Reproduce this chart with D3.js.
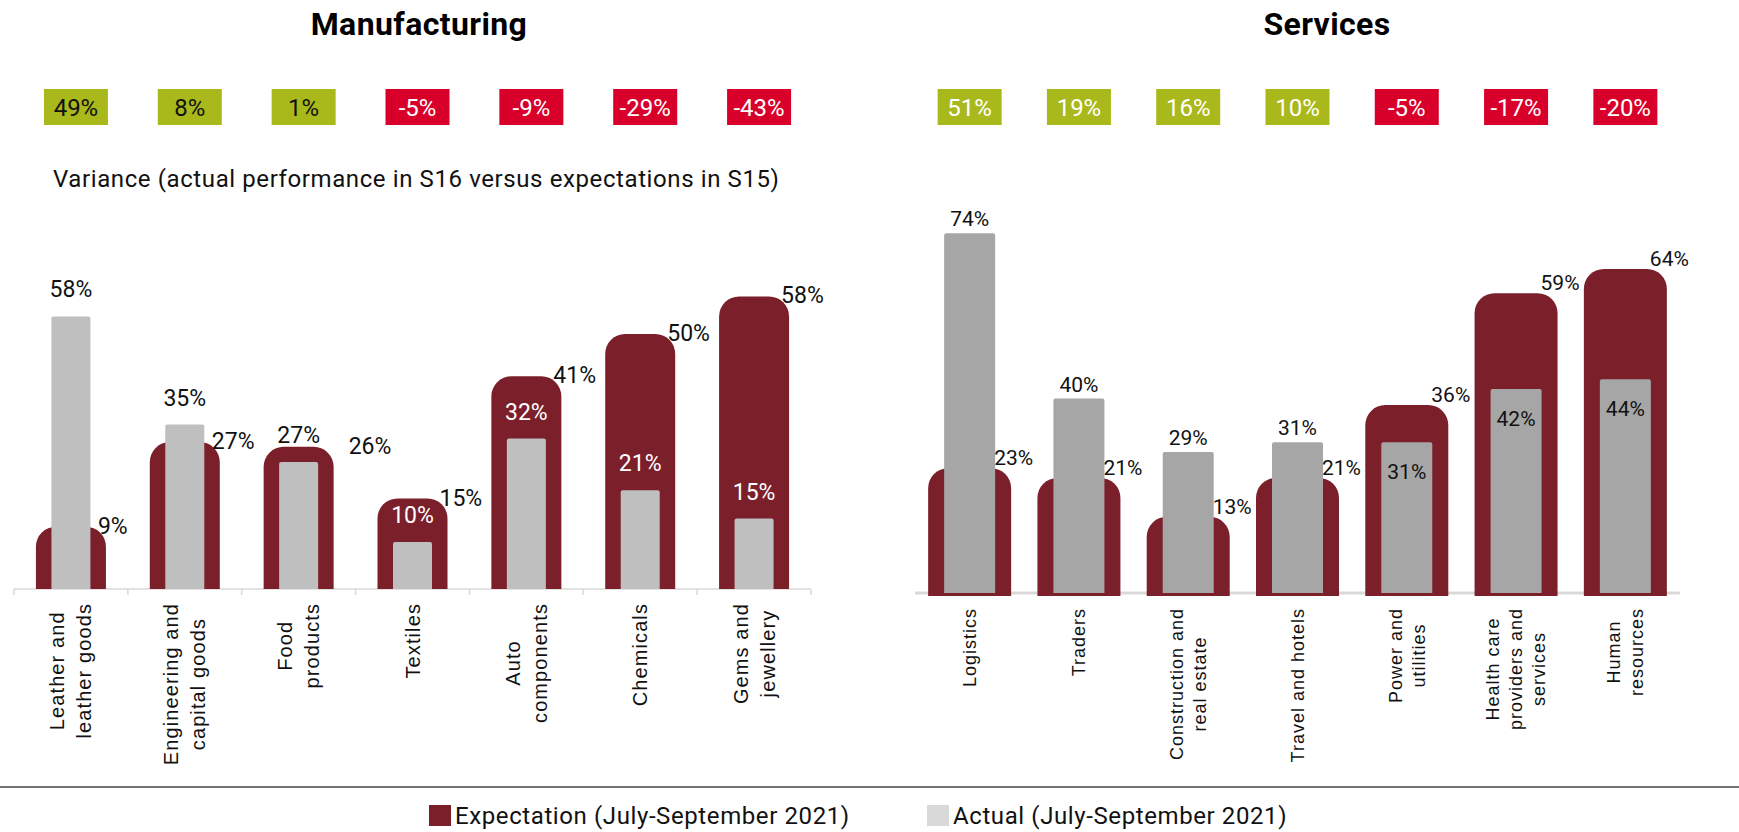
<!DOCTYPE html>
<html>
<head>
<meta charset="utf-8">
<script src="https://cdn.jsdelivr.net/npm/d3@7"></script>
<style>
  body { margin: 0; background: #fff; }
  svg text { font-family: Roboto, "Liberation Sans", sans-serif; }
</style>
</head>
<body>
<div id="chart"></div>
<script>
var width = 1739, height = 832;

// Manufacturing
var mfgCategories = ["Leather and\nleather goods", "Engineering and\ncapital goods", "Food\nproducts", "Textiles", "Auto\ncomponents", "Chemicals", "Gems and\njewellery"];
var mfgExpectation = [9, 27, 26, 15, 41, 50, 58];
var mfgActual = [58, 35, 27, 10, 32, 21, 15];
var mfgVariance = [49, 8, 1, -5, -9, -29, -43];

// Services
var svcCategories = ["Logistics", "Traders", "Construction and\nreal estate", "Travel and hotels", "Power and\nutilities", "Health care\nproviders and\nservices", "Human\nresources"];
var svcExpectation = [23, 21, 13, 21, 36, 59, 64];
var svcActual = [74, 40, 29, 31, 31, 42, 44];
var svcVariance = [51, 19, 16, 10, -5, -17, -20];

var legendLabels = ["Expectation (July-September 2021)", "Actual (July-September 2021)"];

var expColor = "#7b1f2b";
var greenBox = "#a9b81b", redBox = "#d8002b";

var svg = d3.select("#chart")
  .append("svg")
    .attr("width", width)
    .attr("height", height);

// bar with rounded top corners
function roundTop(x, y, w, h, r) {
  r = Math.min(r, w / 2, h);
  return "M" + x + "," + (y + h) +
    "V" + (y + r) +
    "A" + r + "," + r + " 0 0 1 " + (x + r) + "," + y +
    "H" + (x + w - r) +
    "A" + r + "," + r + " 0 0 1 " + (x + w) + "," + (y + r) +
    "V" + (y + h) + "Z";
}

function drawPanel(o) {
  var rows = o.cats.map(function(c, i) {
    return {cat: c, exp: o.exp[i], act: o.act[i], vari: o.vari[i]};
  });

  var x = d3.scaleBand().domain(o.cats).range([o.x0, o.x1]);
  var y = d3.scaleLinear().domain([0, o.yMax]).range([o.base, o.base - o.yMax * o.pxPer]);
  var g = svg.append("g");
  var cx = function(d) { return x(d.cat) + x.bandwidth() / 2; };
  var expTop = function(d) { return y(d.exp) - o.cap; };
  var actLabY = function(d) {
    if (d.act >= d.exp) return y(d.act) - o.aboveGap;
    return o.insideGray ? y(d.act) + 37 : y(d.act) - o.aboveGap;
  };
  var expLabY = function(d) { return expTop(d) + o.expLabY; };

  // title
  g.append("text")
    .attr("x", o.titleX).attr("y", 35)
    .attr("text-anchor", "middle")
    .style("font-size", "32px").style("font-weight", "bold")
    .style("letter-spacing", "0.4px")
    .text(o.title);

  // variance boxes
  var box = g.selectAll(".vbox").data(rows).enter().append("g")
    .attr("transform", function(d) { return "translate(" + (cx(d) + o.boxShift) + ",89)"; });
  box.append("rect")
    .attr("x", -32).attr("width", 64).attr("height", 36)
    .attr("fill", function(d) { return d.vari >= 0 ? greenBox : redBox; });
  box.append("text")
    .attr("y", 18).attr("dy", "0.36em")
    .attr("text-anchor", "middle")
    .style("font-size", "24px")
    .attr("fill", function(d) { return d.vari >= 0 ? o.posText : "#fff"; })
    .text(function(d) { return d.vari + "%"; });

  // axis
  var axis = g.append("g")
    .attr("transform", "translate(0," + o.base + ")")
    .call(d3.axisBottom(x).tickSize(0).tickFormat(""));
  axis.select(".domain").attr("stroke", "#d9d9d9").attr("stroke-width", o.axisW)
    .attr("d", "M" + o.x0 + ",0H" + o.x1);
  if (o.ticks) {
    axis.selectAll(".btick").data(o.cats.concat(["end"])).enter().append("line")
      .attr("x1", function(d) { return d === "end" ? o.x1 : x(d); })
      .attr("x2", function(d) { return d === "end" ? o.x1 : x(d); })
      .attr("y1", 0).attr("y2", 6)
      .attr("stroke", "#d9d9d9").attr("stroke-width", 1.5);
  }

  // expectation bars
  g.selectAll(".exp").data(rows).enter().append("path")
    .attr("fill", expColor)
    .attr("d", function(d) {
      return roundTop(cx(d) - o.expW / 2, expTop(d), o.expW, o.base - expTop(d) + o.below, 20);
    });

  // actual bars
  g.selectAll(".act").data(rows).enter().append("path")
    .attr("fill", o.actColor)
    .attr("d", function(d) {
      return roundTop(cx(d) - o.actW / 2, y(d.act), o.actW, o.base - y(d.act), 2);
    });

  // actual labels
  g.selectAll(".actlab").data(rows).enter().append("text")
    .attr("x", cx)
    .attr("y", actLabY)
    .attr("text-anchor", "middle")
    .style("font-size", o.numSize + "px")
    .attr("fill", function(d) { return (d.act < d.exp && !o.insideGray) ? "#fff" : "#111"; })
    .text(function(d) { return d.act + "%"; });

  // expectation labels (pushed right when they would collide with the actual label)
  g.selectAll(".explab").data(rows).enter().append("text")
    .attr("x", function(d) {
      var nudge = (d.act >= d.exp && Math.abs(actLabY(d) - expLabY(d)) < 22) ? 23 : 0;
      return cx(d) + o.expW / 2 - o.expLabX + nudge;
    })
    .attr("y", expLabY)
    .style("font-size", o.numSize + "px")
    .attr("fill", "#111")
    .text(function(d) { return d.exp + "%"; });

  // category labels (rotated, centered lines)
  var lab = g.selectAll(".cat").data(rows).enter().append("g")
    .attr("transform", function(d) { return "translate(" + cx(d) + "," + o.labTop + ") rotate(-90)"; });
  lab.each(function(d) {
    var lines = d.cat.split("\n");
    var t = d3.select(this).append("text")
      .attr("text-anchor", "middle")
      .style("font-family", "'Liberation Sans', Arial, sans-serif")
      .style("font-size", o.labSize + "px")
      .style("letter-spacing", o.spacing + "px")
      .attr("fill", "#111");
    lines.forEach(function(l, i) {
      t.append("tspan")
        .attr("y", (i - (lines.length - 1) / 2) * o.lineH)
        .attr("dy", "0.35em")
        .text(l);
    });
    var maxLen = 0;
    t.selectAll("tspan").each(function() { maxLen = Math.max(maxLen, this.getComputedTextLength()); });
    t.selectAll("tspan").attr("x", -maxLen / 2);
  });
}

drawPanel({
  cats: mfgCategories, exp: mfgExpectation, act: mfgActual, vari: mfgVariance,
  x0: 14, x1: 811, base: 589, yMax: 60, pxPer: 4.7, cap: 20, title: "Manufacturing", titleX: 419,
  boxShift: 5, posText: "#111", expW: 70, actW: 39, actColor: "#bfbfbf",
  axisW: 1.5, ticks: true, below: 0, aboveGap: 19, insideGray: false, numSize: 23,
  expLabX: 8, expLabY: 7, labTop: 603, labSize: 20, spacing: 1.1, lineH: 27
});

drawPanel({
  cats: svcCategories, exp: svcExpectation, act: svcActual, vari: svcVariance,
  x0: 915, x1: 1680, base: 593, yMax: 80, pxPer: 4.86, cap: 13, title: "Services", titleX: 1327,
  boxShift: 0, posText: "#fff", expW: 83, actW: 51, actColor: "#a6a6a6",
  axisW: 3, ticks: false, below: 3, aboveGap: 7, insideGray: true, numSize: 21,
  expLabX: 17, expLabY: -3, labTop: 608, labSize: 18, spacing: 1.0, lineH: 23
});

// subtitle
svg.append("text")
  .attr("x", 53).attr("y", 187)
  .style("font-size", "24px")
  .style("letter-spacing", "0.6px")
  .attr("fill", "#111")
  .text("Variance (actual performance in S16 versus expectations in S15)");

// legend
svg.append("line")
  .attr("x1", 0).attr("x2", width)
  .attr("y1", 787).attr("y2", 787)
  .attr("stroke", "#444").attr("stroke-width", 1.5);

var legend = svg.selectAll(".leg").data(legendLabels).enter().append("g")
  .attr("transform", function(d, i) { return "translate(" + [429, 927][i] + ",805)"; });
legend.append("rect")
  .attr("width", 22).attr("height", 21)
  .attr("fill", function(d, i) { return i === 0 ? expColor : "#d9d9d9"; });
legend.append("text")
  .attr("x", 26).attr("y", 19)
  .style("font-size", "24px")
  .style("letter-spacing", "0.6px")
  .attr("fill", "#111")
  .text(function(d) { return d; });
</script>
</body>
</html>
